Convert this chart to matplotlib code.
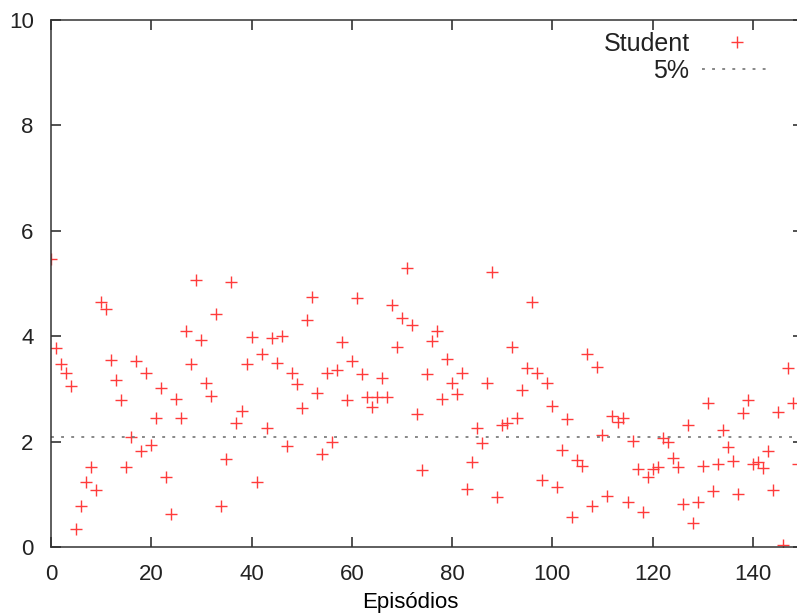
import numpy as np
import matplotlib
matplotlib.use('Agg')
import matplotlib.pyplot as plt

# Student statistic per episode
student = [5.47, 3.77, 3.47, 3.30, 3.05, 0.34, 0.77, 1.23, 1.51, 1.08,
           4.64, 4.52, 3.54, 3.16, 2.78, 1.52, 2.09, 3.52, 1.83, 3.30,
           1.94, 2.44, 3.01, 1.32, 0.63, 2.81, 2.44, 4.09, 3.47, 5.06,
           3.93, 3.12, 2.87, 4.43, 0.77, 1.67, 5.02, 2.35, 2.59, 3.47,
           3.99, 1.23, 3.66, 2.26, 3.96, 3.49, 4.01, 1.92, 3.30, 3.09,
           2.63, 4.31, 4.75, 2.92, 1.76, 3.31, 1.99, 3.36, 3.89, 2.79,
           3.52, 4.72, 3.28, 2.85, 2.65, 2.85, 3.20, 2.85, 4.59, 3.80,
           4.34, 5.29, 4.21, 2.52, 1.46, 3.28, 3.90, 4.09, 2.81, 3.57,
           3.12, 2.90, 3.30, 1.10, 1.62, 2.26, 1.97, 3.12, 5.21, 0.95,
           2.31, 2.35, 3.80, 2.44, 2.97, 3.39, 4.64, 3.31, 1.27, 3.11,
           2.68, 1.14, 1.85, 2.42, 0.56, 1.65, 1.54, 3.67, 0.77, 3.42,
           2.12, 0.96, 2.49, 2.37, 2.44, 0.85, 2.02, 1.48, 0.66, 1.32,
           1.48, 1.52, 2.06, 2.00, 1.69, 1.52, 0.81, 2.31, 0.45, 0.85,
           1.54, 2.74, 1.07, 1.57, 2.22, 1.89, 1.63, 1.00, 2.54, 2.78,
           1.57, 1.62, 1.49, 1.82, 1.08, 2.57, 0.03, 3.39, 2.73, 1.57]
episodes = list(range(len(student)))
threshold = 2.09  # 5% critical value
x_range = [0, 150]
x_ticks = [0, 20, 40, 60, 80, 100, 120, 140]
y_ticks = [0, 2, 4, 6, 8, 10]

plt.rcParams['font.family'] = ['Liberation Sans', 'DejaVu Sans']
plt.rcParams['font.size'] = 16
plt.rcParams['text.color'] = '#222222'

fig = plt.figure(figsize=(7.97, 6.16), dpi=100)
# axes run slightly past the right edge, like the cropped original
ax = fig.add_axes([51 / 797, 69 / 616, 752 / 797, 527 / 616])

ax.plot(episodes, student, linestyle='none', marker='+', markersize=8.5,
        markeredgewidth=1.0, color='#ff3b3b', label='Student')
ax.plot(x_range, [threshold, threshold], color='#7f7f7f', linewidth=1.3,
        dashes=(1.6, 4.0), label='5%')

ax.set_xlim(x_range)
ax.set_ylim(0, 10)
ax.set_xticks(x_ticks)
ax.set_yticks(y_ticks)
ax.tick_params(direction='in', top=True, right=True, length=7, width=1.1,
               colors='#222222', labelsize=16)
ax.tick_params(axis='x', pad=12)
ax.tick_params(axis='y', pad=12.5)
for sp in ax.spines.values():
    sp.set_linewidth(1.1)
    sp.set_color('#333333')

ax.set_xlabel('Episódios', fontsize=16)
ax.xaxis.set_label_coords((410 - 51) / 752, -0.086)

ax.legend(loc='upper right', bbox_to_anchor=((772 - 51) / 752, 0.977),
          frameon=False, markerfirst=False, handlelength=2.8,
          handletextpad=0.5, borderpad=0, borderaxespad=0,
          labelspacing=0.1, fontsize=18)

fig.savefig('out.png', dpi=100)
